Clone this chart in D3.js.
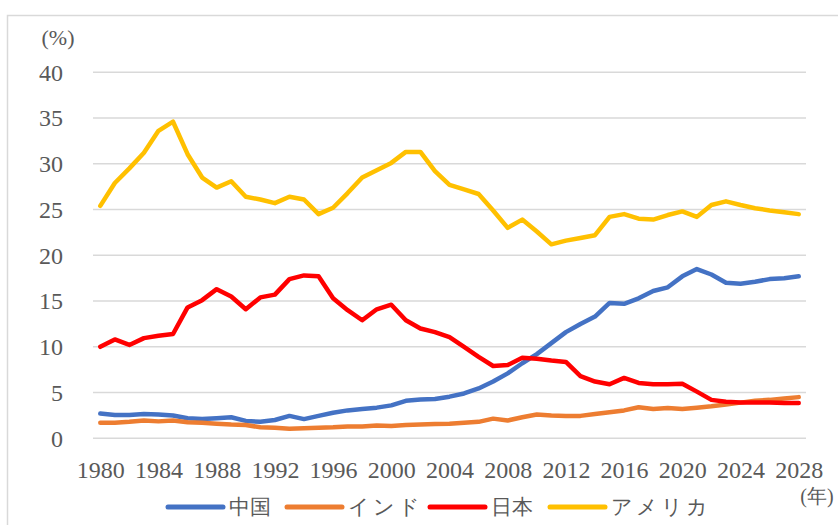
<!DOCTYPE html>
<html>
<head>
<meta charset="utf-8">
<script src="https://cdn.jsdelivr.net/npm/d3@7"></script>
<style>
  body { margin: 0; background: #fff; }
</style>
</head>
<body>
<svg id="chart" width="838" height="525"></svg>
<script>
// years on the category axis
let years = d3.range(1980, 2029);
let yTicks = [0, 5, 10, 15, 20, 25, 30, 35, 40];

// share of world GDP (%)
let china = [2.7,2.55,2.55,2.65,2.6,2.5,2.2,2.1,2.2,2.3,
	1.9,1.8,2.0,2.45,2.1,2.45,2.8,3.05,3.2,3.35,
	3.6,4.1,4.25,4.3,4.55,4.9,5.45,6.2,7.1,8.2,
	9.2,10.4,11.6,12.5,13.3,14.8,14.7,15.3,16.1,16.5,
	17.7,18.5,17.9,17.0,16.9,17.1,17.4,17.5,17.7];
let india = [1.7,1.7,1.8,1.95,1.85,1.95,1.75,1.7,1.6,1.5,
	1.45,1.2,1.15,1.05,1.1,1.15,1.2,1.3,1.3,1.4,
	1.35,1.45,1.5,1.55,1.6,1.7,1.8,2.15,1.95,2.3,
	2.6,2.5,2.45,2.45,2.65,2.85,3.05,3.4,3.2,3.3,
	3.2,3.35,3.5,3.7,3.9,4.1,4.2,4.35,4.5];
let japan = [10.0,10.8,10.2,10.95,11.2,11.4,14.3,15.1,16.3,15.5,
	14.1,15.4,15.7,17.4,17.8,17.7,15.3,14.0,12.9,14.1,
	14.6,12.9,12.0,11.6,11.05,10.0,8.9,7.9,8.0,8.8,
	8.7,8.5,8.35,6.8,6.2,5.9,6.6,6.05,5.9,5.9,
	5.95,5.1,4.2,4.0,3.9,3.9,3.9,3.85,3.85];
let usa = [25.4,27.9,29.5,31.2,33.6,34.6,31.05,28.5,27.4,28.1,
	26.4,26.1,25.7,26.4,26.1,24.5,25.2,26.8,28.5,29.3,
	30.1,31.3,31.3,29.2,27.7,27.2,26.7,24.9,23.0,23.9,
	22.6,21.2,21.6,21.9,22.2,24.2,24.5,24.0,23.9,24.4,
	24.8,24.2,25.5,25.9,25.5,25.15,24.9,24.7,24.5];

let names = ['中国', 'インド', '日本', 'アメリカ'];
let colors = ['#4472C4', '#ED7D31', '#FF0000', '#FFC000'];
let series = [china, india, japan, usa].map((vals, i) => ({name: names[i], color: colors[i], values: vals}));

let font = "'Liberation Serif'";
let svg = d3.select('#chart');

// outer chart border
svg.append('rect')
	.attr('x', 7.5).attr('y', 15.5)
	.attr('width', 840).attr('height', 520)
	.attr('fill', 'none')
	.attr('stroke', '#d9d9d9')
	.attr('stroke-width', 1.5);

let x = d3.scalePoint()
	.domain(years)
	.range([93, 806])
	.padding(0.5);

let y = d3.scaleLinear()
	.domain([0, 40])
	.range([438.3, 72.3]);

// gridlines
svg.append('g')
	.selectAll('line')
	.data(yTicks)
	.enter().append('line')
	.attr('x1', 93).attr('x2', 806)
	.attr('y1', d => y(d)).attr('y2', d => y(d))
	.attr('stroke', '#d9d9d9')
	.attr('stroke-width', 1.5);

// y axis labels
svg.append('g')
	.selectAll('text')
	.data(yTicks)
	.enter().append('text')
	.attr('x', 63)
	.attr('y', d => y(d))
	.attr('dy', '0.35em')
	.attr('text-anchor', 'end')
	.style('font-family', font)
	.style('font-size', '24px')
	.style('fill', '#595959')
	.text(d => d);

svg.append('text')
	.attr('x', 58).attr('y', 45)
	.attr('text-anchor', 'middle')
	.style('font-family', font)
	.style('font-size', '22px')
	.style('fill', '#595959')
	.text('(%)');

// x axis labels, every 4 years
let xAxis = svg.append('g')
	.attr('transform', 'translate(0,' + y(0) + ')')
	.call(d3.axisBottom(x).tickValues(years.filter(d => d % 4 === 0)).tickSize(0).tickPadding(23));
xAxis.select('.domain').remove();
xAxis.selectAll('text')
	.style('font-family', font)
	.style('font-size', '24px')
	.style('fill', '#595959');

svg.append('text')
	.attr('x', 817).attr('y', 503)
	.attr('text-anchor', 'middle')
	.style('font-family', font)
	.style('font-size', '20px')
	.style('fill', '#595959')
	.text('(年)');

// lines
let line = d3.line()
	.x((d, i) => x(years[i]))
	.y(d => y(d));

svg.append('g')
	.selectAll('path')
	.data(series)
	.enter().append('path')
	.attr('d', d => line(d.values))
	.attr('fill', 'none')
	.attr('stroke', d => d.color)
	.attr('stroke-width', 4.5)
	.attr('stroke-linejoin', 'round')
	.attr('stroke-linecap', 'round');

// legend
let legendX = [168, 287, 430, 550];
let legend = svg.append('g')
	.selectAll('g')
	.data(series)
	.enter().append('g')
	.attr('transform', (d, i) => 'translate(' + legendX[i] + ',507)');
legend.append('line')
	.attr('x1', 0).attr('x2', 55)
	.attr('stroke', d => d.color)
	.attr('stroke-width', 5)
	.attr('stroke-linecap', 'round');
legend.append('text')
	.attr('x', 61)
	.attr('dy', '0.35em')
	.style('font-family', font)
	.style('font-size', '21px')
	.style('fill', '#595959')
	.style('letter-spacing', (d, i) => i === 1 || i === 3 ? '3px' : '0px')
	.text(d => d.name);
</script>
</body>
</html>
